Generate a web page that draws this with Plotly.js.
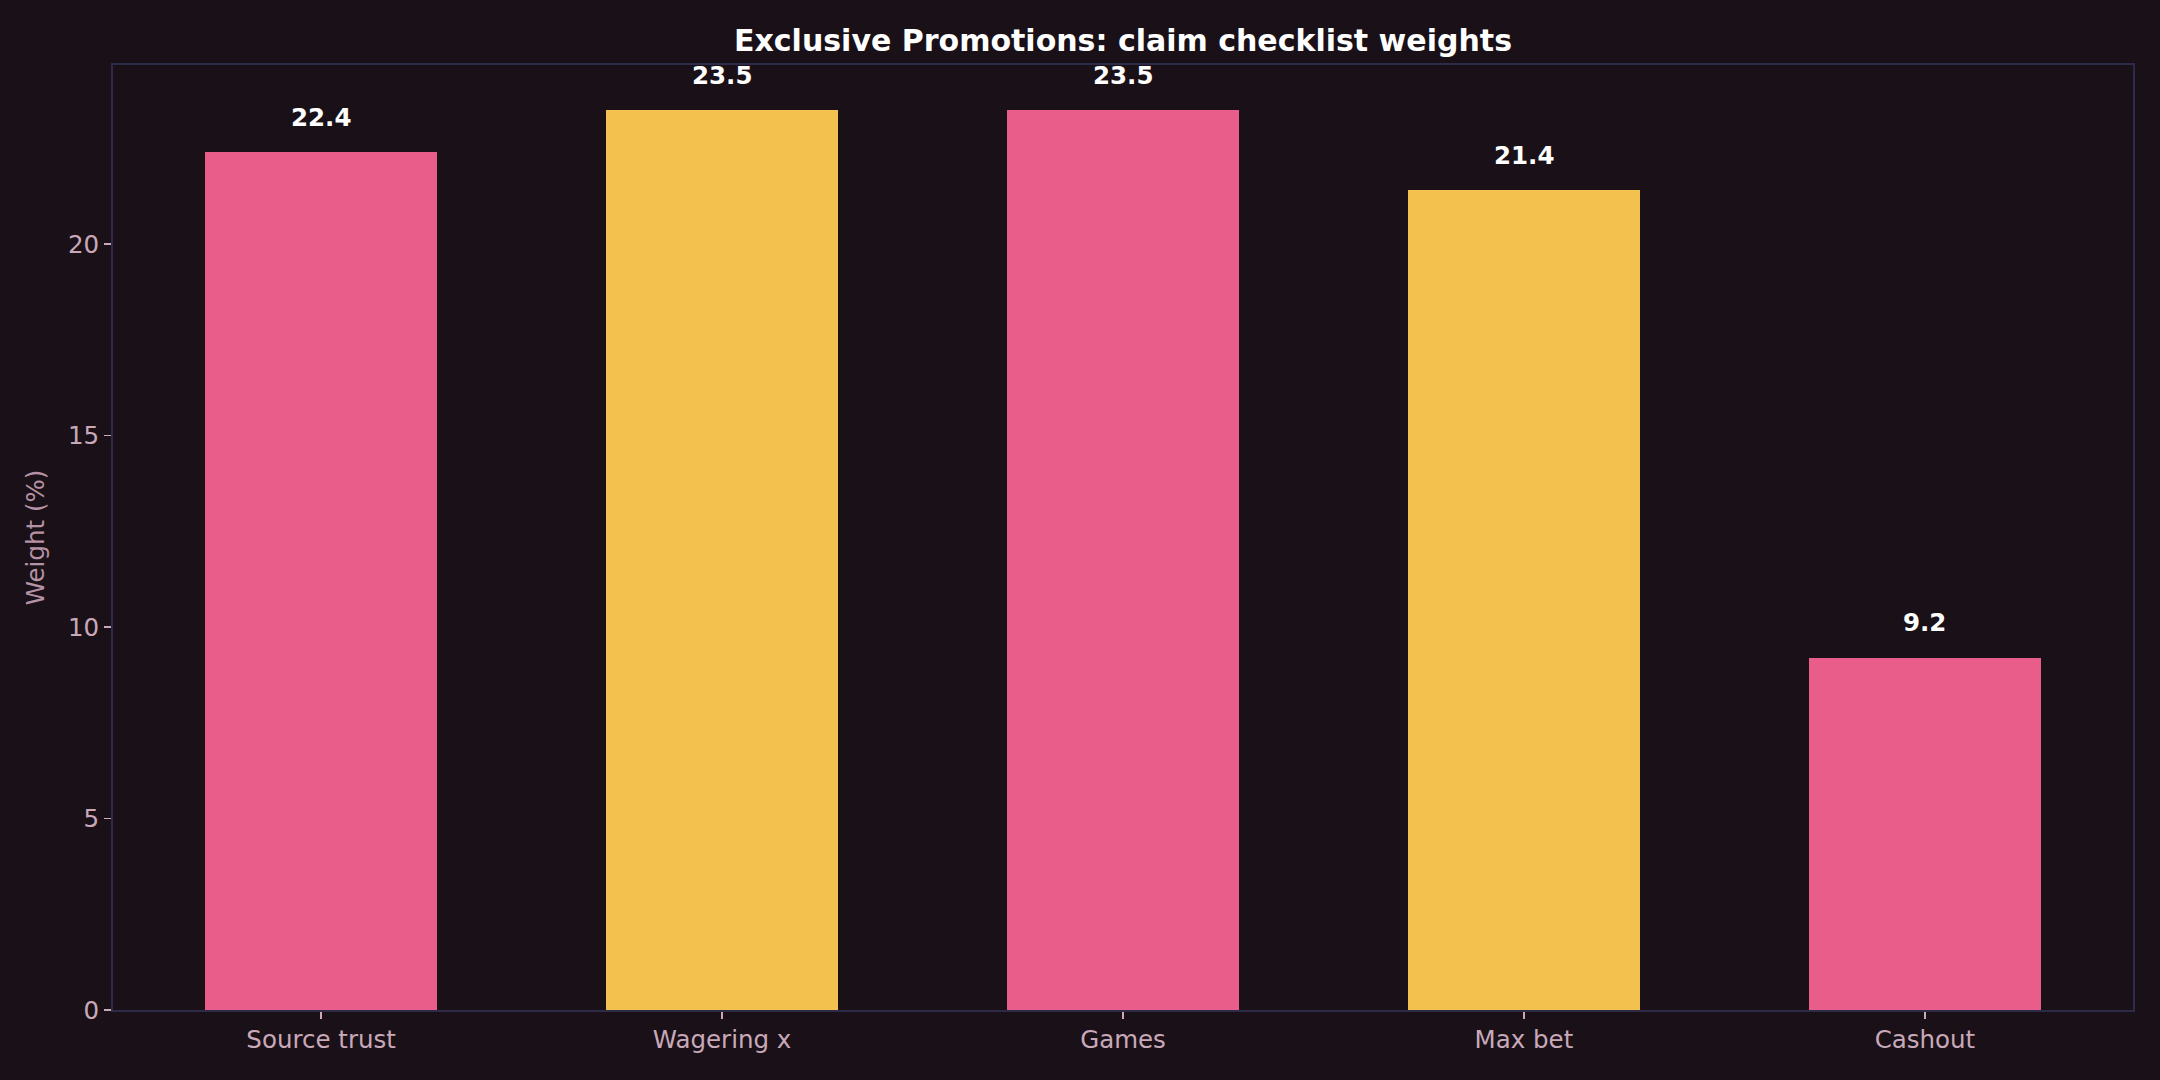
<!DOCTYPE html>
<html>
<head>
<meta charset="utf-8">
<script src="https://cdn.plot.ly/plotly-3.0.1.min.js"></script>
<style>
  html, body { margin: 0; padding: 0; background: #1a1118; }
  #chart { width: 2160px; height: 1080px; }
</style>
</head>
<body>
<div id="chart"></div>
<script>
const categories = ["Source trust", "Wagering x", "Games", "Max bet", "Cashout"];
const weights = [22.4, 23.5, 23.5, 21.4, 9.2];
const barColors = ["#e85d8a", "#f2c14e", "#e85d8a", "#f2c14e", "#e85d8a"];
const yTicks = [0, 5, 10, 15, 20];

const font = "DejaVu Sans, sans-serif";
const tickColor = "#c9a9b9";
const frameColor = "#2e2b48";

const trace = {
  type: "bar",
  x: categories.map((c, i) => i),
  y: weights,
  width: 0.58,
  marker: { color: barColors, line: { width: 0 } },
  hoverinfo: "skip",
};

const labels = weights.map((w, i) => ({
  x: i,
  y: w,
  xref: "x",
  yref: "y",
  text: "<b>" + w.toFixed(1) + "</b>",
  showarrow: false,
  yanchor: "middle",
  yshift: 35,
  font: { family: font, size: 24.5, color: "#ffffff" },
}));

const layout = {
  width: 2160,
  height: 1080,
  paper_bgcolor: "#1a1118",
  plot_bgcolor: "#1a1118",
  margin: { l: 113, r: 27, t: 65, b: 70 },
  showlegend: false,
  bargap: 0,
  title: {
    text: "<b>Exclusive Promotions: claim checklist weights</b>",
    font: { family: font, size: 30, color: "#ffffff" },
    x: 0.5,
    xref: "paper",
    xanchor: "center",
    y: 1 - 40 / 1080,
    yref: "container",
    yanchor: "middle",
  },
  xaxis: {
    range: [-0.519, 4.519],
    tickmode: "array",
    tickvals: categories.map((c, i) => i),
    ticktext: categories,
    ticks: "outside",
    ticklen: 7,
    tickwidth: 1.5,
    tickcolor: tickColor,
    tickfont: { family: font, size: 24.5, color: tickColor },
    showgrid: false,
    zeroline: false,
    showline: true,
    mirror: true,
    linecolor: frameColor,
    linewidth: 2,
    fixedrange: true,
  },
  yaxis: {
    range: [0, 24.675],
    tickmode: "array",
    tickvals: yTicks,
    ticktext: yTicks.map(String),
    ticks: "outside",
    ticklen: 7,
    tickwidth: 1.5,
    tickcolor: tickColor,
    tickfont: { family: font, size: 24.5, color: tickColor },
    title: {
      text: "Weight (%)",
      font: { family: font, size: 24.5, color: "#b592a4" },
      standoff: 16,
    },
    showgrid: false,
    zeroline: false,
    showline: true,
    mirror: true,
    linecolor: frameColor,
    linewidth: 2,
    fixedrange: true,
  },
  annotations: labels,
};

Plotly.newPlot("chart", [trace], layout, { displayModeBar: false, staticPlot: true });
</script>
</body>
</html>
